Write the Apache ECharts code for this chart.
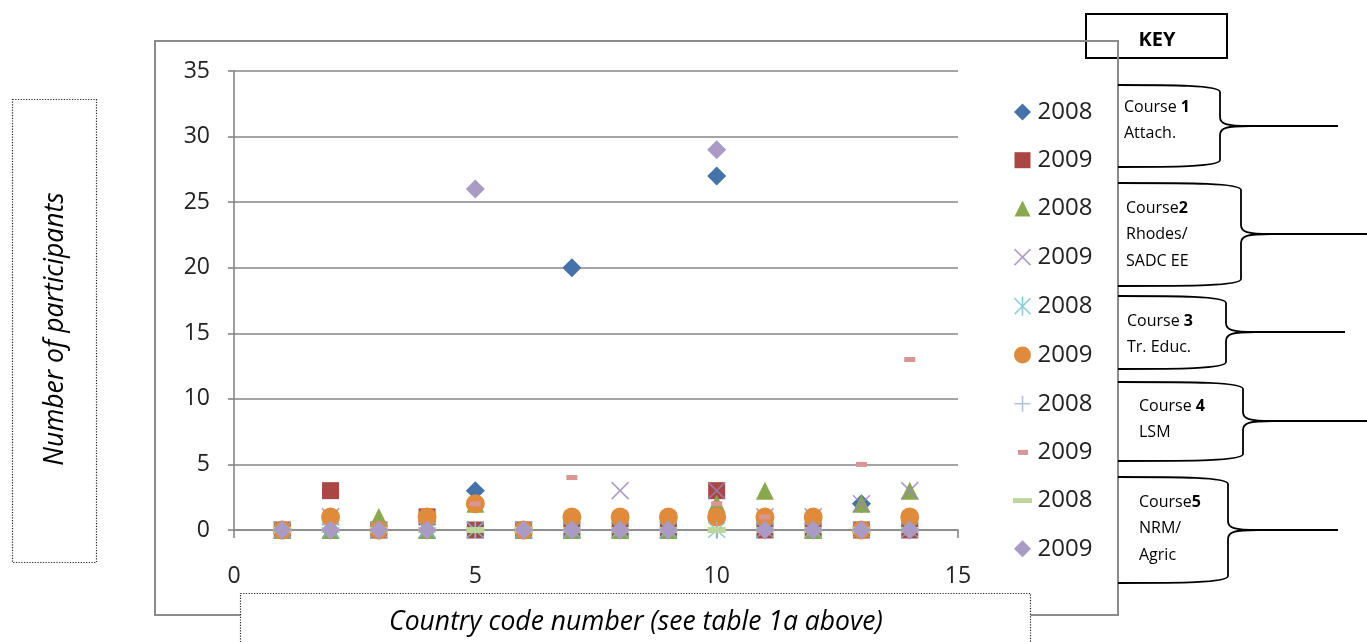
<!DOCTYPE html>
<html>
<head>
<meta charset="utf-8">
<script src="https://cdn.jsdelivr.net/npm/echarts@6/dist/echarts.min.js"></script>
<style>
html,body{margin:0;padding:0;background:#fff;}
#chart{width:1367px;height:642px;}
</style>
</head>
<body>
<div id="chart"></div>
<script>
// ---- data ----
const countries = [1,2,3,4,5,6,7,8,9,10,11,12,13,14];
const c1_2008 = [0,0,0,0,3,0,20,0,0,27,0,0,2,0];
const c1_2009 = [0,3,0,1,0,0,0,0,0,3,0,0,0,0];
const c2_2008 = [0,0,1,0,2,0,0,0,0,2,3,0,2,3];
const c2_2009 = [0,1,0,0,0,0,0,3,0,3,1,1,2,3];
const c3_2008 = [0,0,0,0,0,0,0,0,0,0,0,0,0,0];
const c3_2009 = [0,1,0,1,2,0,1,1,1,1,1,1,0,1];
const c4_2008 = [0,0,0,0,0,0,0,0,0,0,0,0,0,0];
const c4_2009 = [0,0,0,0,2,0,4,0,0,2,1,0,5,13];
const c5_2008 = [0,0,0,0,0,0,0,0,0,0,0,0,0,0];
const c5_2009 = [0,0,0,0,26,0,0,0,0,29,0,0,0,0];
const xTicks = [0,5,10,15];
const yTicks = [0,5,10,15,20,25,30,35];
const legendLabels = ['2008','2009','2008','2009','2008','2009','2008','2009','2008','2009'];
const keyItems = [
  ['Course {b|1}','Attach.'],
  ['Course{b|2}','Rhodes/','SADC EE'],
  ['Course {b|3}','Tr. Educ.'],
  ['Course {b|4}','LSM'],
  ['Course{b|5}','NRM/','Agric']
];

const FONT = '"Open Sans", "Noto Sans", sans-serif';
const pts = arr => countries.map((c,i)=>[c, arr[i]]);

const P_X = 'path://M0,0L20,20M20,0L0,20';
const P_STAR = 'path://M0,0L20,20M20,0L0,20M10,-1L10,21';
const P_PLUS = 'path://M10,0L10,20M0,10L20,10';

const defs = [
  {d:c1_2008, symbol:'diamond', size:19, color:'#4672AA', icon:'path://M0,0M20,20M10,1.5L18.5,10L10,18.5L1.5,10Z'},
  {d:c1_2009, symbol:'rect', size:17, color:'#AA4643', icon:'path://M0,0M20,20M2,2H18V18H2Z'},
  {d:c2_2008, symbol:'triangle', size:18, color:'#8AA84E', icon:'path://M0,0M20,20M10,2L18,18H2Z'},
  {d:c2_2009, symbol:P_X, size:17, color:'#9A86BA', stroke:true, icon:'path://M0,0M20,20M2,2L18,18M18,2L2,18'},
  {d:c3_2008, symbol:P_STAR, size:17, color:'#6CC0D6', stroke:true, icon:'path://M0,0M20,20M2,2L18,18M18,2L2,18M10,0.5L10,19.5'},
  {d:c3_2009, symbol:'circle', size:19, color:'#E08A3C', icon:'path://M0,0M20,20M10,1.5A8.5,8.5,0,1,1,9.99,1.5Z'},
  {d:c4_2008, symbol:P_PLUS, size:17, color:'#9DB3D8', stroke:true, icon:'path://M0,0M20,20M10,2L10,18M2,10L18,10'},
  {d:c4_2009, symbol:'rect', size:[11,5], color:'#D99594', icon:'path://M0,0M20,20M5.5,7.5H15.5V12.5H5.5Z'},
  {d:c5_2008, symbol:'rect', size:[18,6], color:'#BFD69A', icon:'path://M0,0M20,20M0.5,7.5H19.5V12.5H0.5Z'},
  {d:c5_2009, symbol:'diamond', size:19, color:'#A99BC3', icon:'path://M0,0M20,20M10,1.5L18.5,10L10,18.5L1.5,10Z'}
];

// unique series names (legend labels are trimmed)
const names = legendLabels.map((l,i)=> l + ' '.repeat(i));

const series = defs.map((s,i)=>({
  name: names[i],
  type: 'scatter',
  data: pts(s.d),
  symbol: s.symbol,
  symbolSize: s.size,
  itemStyle: s.stroke ? {color:'none', borderColor:s.color, borderWidth:1.6} : {color:s.color, opacity:1},
  emphasis:{disabled:true},
  z: 2 + i*0.01
}));

const legendData = defs.map((s,i)=>({
  name: names[i],
  icon: s.icon,
  itemStyle: s.stroke ? {color:'none', borderColor:s.color, borderWidth:1.6} : {color:s.color, borderWidth:0}
}));

// graphic elements (layout decorations)
const graphics = [];
graphics.push({type:'rect', z:1, shape:{x:1086,y:14,width:141,height:44}, style:{fill:'#fff', stroke:'#000', lineWidth:2}});
graphics.push({type:'text', z:3, x:1157, y:40, style:{text:'KEY', fontFamily:FONT, fontSize:20, fontWeight:'bold', fill:'#000', align:'center', verticalAlign:'middle'}});
graphics.push({type:'rect', z:2, shape:{x:155,y:41,width:963,height:574}, style:{fill:'none', stroke:'#8c8c8c', lineWidth:2}});
// y title box
graphics.push({type:'rect', z:3, shape:{x:12.5,y:99.5,width:84,height:463}, style:{fill:'#fff', stroke:'#222', lineWidth:1.2, lineDash:[1.2,1.5]}});
graphics.push({type:'text', z:4, x:55, y:329, rotation:Math.PI/2, style:{text:'Number of participants', fontFamily:FONT, fontSize:26.5, fontStyle:'italic', fill:'#000', align:'center', verticalAlign:'middle'}});
// x title box
graphics.push({type:'rect', z:3, shape:{x:240.5,y:593.5,width:790,height:70}, style:{fill:'#fff', stroke:'#222', lineWidth:1.2, lineDash:[1.2,1.5]}});
graphics.push({type:'text', z:4, x:636, y:622, style:{text:'Country code number (see table 1a above)', fontFamily:FONT, fontSize:26.5, fontStyle:'italic', fill:'#000', align:'center', verticalAlign:'middle'}});

// callouts: [top, bottom, braceX, mid, tipX, textX, firstLineY]
const callouts = [
  [85,167,1220,126,1338,1124,107],
  [183,286,1241,234,1367,1126,208],
  [296,369,1226,332,1345,1127,321],
  [382,461,1243,421,1367,1139,406],
  [477,583,1228,530,1338,1139,502]
];
const L = 1118;
const ls = {fill:'none', stroke:'#000', lineWidth:1.8};
const bez = (x1,y1,c1x,c1y,c2x,c2y,x2,y2) => ({type:'bezierCurve', z:3, shape:{x1,y1,cpx1:c1x,cpy1:c1y,cpx2:c2x,cpy2:c2y,x2,y2}, style:ls});
const seg = (x1,y1,x2,y2) => ({type:'line', z:3, shape:{x1,y1,x2,y2}, style:ls});
callouts.forEach((c,k)=>{
  const [t,b,bx,m,tip,tx,ty] = c;
  graphics.push(bez(L,t, bx-50,t, bx,t, bx,t+7));
  graphics.push(seg(bx,t+7, bx,m-9));
  graphics.push(bez(bx,m-9, bx,m-2, bx+6,m, bx+30,m));
  graphics.push(seg(bx+30,m, tip,m));
  graphics.push(bez(bx+30,m, bx+6,m, bx,m+2, bx,m+9));
  graphics.push(seg(bx,m+9, bx,b-7));
  graphics.push(bez(bx,b-7, bx,b, bx-50,b, L,b));
  keyItems[k].forEach((line,j)=>{
    graphics.push({type:'text', z:4, x:tx, y:ty + j*26.5, style:{text:line, fontFamily:FONT, fontSize:16, fill:'#000', align:'left', verticalAlign:'middle', rich:{b:{fontFamily:FONT, fontSize:16, fontWeight:'bold', fill:'#000'}}}});
  });
});

const chart = echarts.init(document.getElementById('chart'), null, {renderer:'canvas'});
chart.setOption({
  animation:false,
  backgroundColor:'#fff',
  grid:{left:234, top:71, width:724, height:459, containLabel:false},
  xAxis:{
    type:'value', min:xTicks[0], max:xTicks[xTicks.length-1], interval:xTicks[1]-xTicks[0],
    axisLine:{show:true, onZero:false, lineStyle:{color:'#868686', width:1.6}},
    axisTick:{show:true, length:8, lineStyle:{color:'#868686', width:1.6}},
    splitLine:{show:false},
    axisLabel:{fontFamily:FONT, fontSize:23, color:'#222', margin:35}
  },
  yAxis:{
    type:'value', min:yTicks[0], max:yTicks[yTicks.length-1], interval:yTicks[1]-yTicks[0],
    axisLine:{show:true, lineStyle:{color:'#868686', width:1.6}},
    axisTick:{show:true, length:6, lineStyle:{color:'#868686', width:1.6}},
    splitLine:{show:true, lineStyle:{color:'#868686', width:1.6}},
    axisLabel:{fontFamily:FONT, fontSize:23, color:'#222', margin:24}
  },
  legend:{
    orient:'vertical', left:1005, top:95,
    itemWidth:20, itemHeight:20, itemGap:24.2,
    selectedMode:false,
    formatter: n => n.trim(),
    textStyle:{fontFamily:FONT, fontSize:24, lineHeight:24, color:'#222'},
    data: legendData
  },
  graphic:{elements:graphics},
  series: series
});
</script>
</body>
</html>
